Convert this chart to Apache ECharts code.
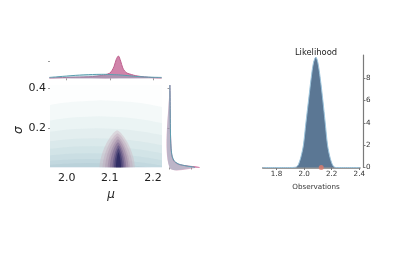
<!DOCTYPE html>
<html>
<head>
<meta charset="utf-8">
<script src="https://cdn.jsdelivr.net/npm/echarts@6.0.0/dist/echarts.min.js"></script>
<style>
html,body{margin:0;padding:0;background:#fff;}
#chart{width:400px;height:280px;}
</style>
</head>
<body>
<div id="chart"></div>
<script>
// ---------- data ----------
const muTicks = [2.0, 2.1, 2.2];
const sigmaTicks = [0.2, 0.4];
const likeTicksX = [1.8, 2.0, 2.2, 2.4];
const likeTicksY = [0, 2, 4, 6, 8];

// top marginal (density of mu)
const topMu    = [1.96, 1.98, 2.00, 2.02, 2.04, 2.06, 2.08, 2.09, 2.10, 2.105, 2.11, 2.115, 2.12, 2.125, 2.13, 2.135, 2.14, 2.15, 2.16, 2.18, 2.20, 2.22];
const topPink  = [0.2, 0.35, 0.5, 0.65, 0.8, 1.0, 1.6, 2.1, 3.0, 4.5, 7.0, 11.0, 12.9, 10.0, 6.0, 4.0, 3.0, 2.2, 1.5, 0.8, 0.4, 0.2];
const topTeal  = [0.5, 0.9, 1.3, 1.7, 2.0, 2.2, 2.3, 2.3, 2.2, 2.15, 2.1, 2.05, 2.0, 1.9, 1.8, 1.7, 1.6, 1.35, 1.1, 0.8, 0.6, 0.5];

// right marginal (density of sigma)
const sideSigma = [0.003, 0.006, 0.01, 0.015, 0.02, 0.03, 0.04, 0.06, 0.08, 0.1, 0.15, 0.2, 0.3, 0.4165];
const sidePink  = [13.6, 12.0, 8.5, 5.5, 3.8, 2.4, 1.7, 1.1, 0.85, 0.7, 0.5, 0.4, 0.3, 0.2];
const sideTeal  = [11.5, 10.5, 8.0, 5.8, 4.2, 2.7, 1.9, 1.2, 0.9, 0.7, 0.5, 0.4, 0.3, 0.2];

// joint density: teal (broad) filled contour levels
const tealMu    = [2.08, 2.075, 2.07, 2.065, 2.06, 2.055, 2.05, 2.05];
const tealHalfW = [0.45, 0.40, 0.36, 0.32, 0.28, 0.24, 0.20, 0.15];
const tealTop   = [0.34, 0.26, 0.20, 0.15, 0.11, 0.075, 0.045, 0.025];
// joint density: purple (concentrated) filled contour levels
const purpMu    = [2.117, 2.118, 2.118, 2.119, 2.119, 2.12, 2.12, 2.12];
const purpHalfW = [0.041, 0.035, 0.029, 0.024, 0.019, 0.014, 0.010, 0.006];
const purpTop   = [0.19, 0.175, 0.16, 0.145, 0.13, 0.115, 0.10, 0.08];

// likelihood
const likeX = [1.70, 1.90, 1.94, 1.96, 1.98, 1.995, 2.013, 2.032, 2.051, 2.068, 2.085, 2.10, 2.117, 2.136, 2.153, 2.17, 2.19, 2.21, 2.23, 2.405];
const likeY = [0, 0, 0.03, 0.3, 1.1, 2.0, 4.0, 6.0, 8.0, 9.4, 9.9, 9.4, 8.0, 6.0, 4.0, 2.0, 0.8, 0.15, 0, 0];
const obsX = [2.124];

// ---------- styles ----------
const tealColors = ['rgba(120,175,185,0.065)','rgba(120,175,185,0.065)','rgba(115,172,183,0.065)','rgba(112,168,182,0.065)','rgba(108,164,180,0.07)','rgba(104,158,178,0.07)','rgba(100,150,174,0.075)','rgba(96,144,170,0.08)'];
const purpColors = ['rgba(205,182,192,0.42)','rgba(190,166,184,0.40)','rgba(170,148,172,0.42)','rgba(146,124,158,0.45)','rgba(118,100,142,0.50)','rgba(90,78,128,0.56)','rgba(62,56,110,0.66)','rgba(40,38,95,0.76)'];

const chart = echarts.init(document.getElementById('chart'), null, {renderer:'canvas'});

function contourSeries(mu, hw, top, colors, p, q) {
  const data = mu.map((m, i) => [m, top[i], hw[i], i]);
  return {
    type: 'custom', xAxisIndex: 0, yAxisIndex: 0, clip: true, silent: true,
    encode: {x: 0, y: 1},
    data: data,
    renderItem: function (params, api) {
      const c = api.value(0), h = api.value(1), w = api.value(2), idx = api.value(3);
      const N = 48;
      const left = [], right = [];
      for (let k = 0; k <= N; k++) {
        const t = k / N;
        const s = h * t;
        const dx = w * Math.pow(Math.max(0, 1 - Math.pow(t, p)), q);
        left.push(api.coord([c - dx, s]));
        right.unshift(api.coord([c + dx, s]));
      }
      return {
        type: 'polygon',
        shape: {points: left.concat(right), smooth: 0},
        style: {fill: colors[idx], stroke: null},
        clipPath: {type: 'rect', shape: {x: params.coordSys.x, y: params.coordSys.y, width: params.coordSys.width, height: params.coordSys.height}}
      };
    }
  };
}

function areaSeries(xi, yi, xs, ys, horizontal, fill, stroke, z) {
  return {
    type: 'custom', xAxisIndex: xi, yAxisIndex: yi, silent: true, z: z,
    data: [[xs[0], ys[0]]],
    renderItem: function (params, api) {
      const pts = xs.map((x, i) => api.coord(horizontal ? [ys[i], x] : [x, ys[i]]));
      const base0 = horizontal ? api.coord([0, xs[0]]) : api.coord([xs[0], 0]);
      const base1 = horizontal ? api.coord([0, xs[xs.length - 1]]) : api.coord([xs[xs.length - 1], 0]);
      return {
        type: 'group',
        children: [
          {type: 'polygon', shape: {points: [base0].concat(pts, [base1]), smooth: 0.3}, style: {fill: fill}},
          {type: 'polyline', shape: {points: pts, smooth: 0.3}, style: {stroke: stroke, lineWidth: 1, fill: null}}
        ]
      };
    }
  };
}

const tickGrey = '#9a9a9a';
const muMin = 1.9615, muMax = 2.2208, sMin = 0.003, sMax = 0.4165;

const option = {
  animation: false,
  backgroundColor: '#ffffff',
  textStyle: {fontFamily: 'DejaVu Sans'},
  title: [
    {text: 'Likelihood', left: 311, top: 44, textAlign: 'center', textStyle: {fontSize: 8.4, fontWeight: 'normal', color: '#222', fontFamily: 'DejaVu Sans'}},
    {text: 'Observations', left: 311, top: 179, textAlign: 'center', textStyle: {fontSize: 7.2, fontWeight: 'normal', color: '#333', fontFamily: 'DejaVu Sans'}},
    {text: 'μ', left: 106, top: 184, textAlign: 'center', textStyle: {fontSize: 12, fontStyle: 'italic', fontWeight: 'normal', color: '#222', fontFamily: 'DejaVu Sans'}}
  ],
  graphic: [
    {type: 'text', x: 13, y: 134, rotation: Math.PI / 2, style: {text: 'σ', font: 'italic 12px DejaVu Sans', fill: '#222'}}
  ],
  grid: [
    {left: 50, top: 85, width: 112, height: 82.5, show: true, backgroundColor: '#fdfefe', borderWidth: 0},
    {left: 50, top: 55, width: 112, height: 23.3},
    {left: 169.5, top: 85, width: 31, height: 82.5},
    {left: 262.7, top: 55, width: 97.3, height: 112.5}
  ],
  xAxis: [
    {gridIndex: 0, type: 'value', min: muMin, max: muMax,
      axisLine: {show: false}, splitLine: {show: false},
      axisTick: {show: false},
      axisLabel: {customValues: muTicks, fontSize: 11, color: '#222', margin: 5, formatter: v => v.toFixed(1)}},
    {gridIndex: 1, type: 'value', min: muMin, max: muMax,
      axisLine: {show: false}, splitLine: {show: false},
      axisTick: {show: true, customValues: muTicks, length: 2, lineStyle: {color: tickGrey}},
      axisLabel: {show: false}},
    {gridIndex: 2, type: 'value', min: 0, max: 14,
      axisLine: {show: false}, splitLine: {show: false},
      axisTick: {show: true, customValues: [0, 10], length: 2, lineStyle: {color: tickGrey}},
      axisLabel: {show: false}},
    {gridIndex: 3, type: 'value', min: 1.7, max: 2.405,
      axisLine: {show: true, lineStyle: {color: '#7a7a7a', width: 1.5}}, splitLine: {show: false},
      axisTick: {show: true, customValues: likeTicksX, length: 2.5, lineStyle: {color: '#7a7a7a'}},
      axisLabel: {customValues: likeTicksX, fontSize: 7.2, color: '#333', margin: 3.5, formatter: v => v.toFixed(1)}}
  ],
  yAxis: [
    {gridIndex: 0, type: 'value', min: sMin, max: sMax,
      axisLine: {show: false}, splitLine: {show: false},
      axisTick: {show: true, customValues: sigmaTicks, length: 2, lineStyle: {color: tickGrey}},
      axisLabel: {customValues: sigmaTicks, fontSize: 11, color: '#222', margin: 4, formatter: v => v.toFixed(1)}},
    {gridIndex: 1, type: 'value', min: 0, max: 13.5,
      axisLine: {show: false}, splitLine: {show: false},
      axisTick: {show: true, customValues: [10], length: 2, lineStyle: {color: tickGrey}},
      axisLabel: {show: false}},
    {gridIndex: 2, type: 'value', min: sMin, max: sMax,
      axisLine: {show: false}, splitLine: {show: false},
      axisTick: {show: true, customValues: sigmaTicks, length: 2, lineStyle: {color: tickGrey}},
      axisLabel: {show: false}},
    {gridIndex: 3, type: 'value', min: 0, max: 10.09, position: 'right', offset: 3,
      axisLine: {show: true, lineStyle: {color: '#7a7a7a', width: 1.2}}, splitLine: {show: false},
      axisTick: {show: true, customValues: likeTicksY, length: 2.5, inside: false, lineStyle: {color: '#7a7a7a'}},
      axisLabel: {customValues: likeTicksY, fontSize: 7.2, color: '#333', margin: 3}}
  ],
  series: [
    contourSeries(tealMu, tealHalfW, tealTop, tealColors, 1, 0.5),
    contourSeries(purpMu, purpHalfW, purpTop, purpColors, 1.7, 0.75),
    areaSeries(1, 1, topMu, topPink, false, 'rgba(200,110,155,0.85)', '#c0608e', 2),
    areaSeries(1, 1, topMu, topTeal, false, 'rgba(110,175,190,0.35)', '#5a9fb0', 3),
    areaSeries(2, 2, sideSigma, sidePink, true, 'rgba(200,120,160,0.55)', '#d06a9a', 2),
    areaSeries(2, 2, sideSigma, sideTeal, true, 'rgba(120,180,195,0.35)', '#5a9fb0', 3),
    {type: 'line', xAxisIndex: 3, yAxisIndex: 3, data: likeX.map((x, i) => [x, likeY[i]]), smooth: 0.3, symbol: 'none',
      lineStyle: {color: '#9cc4dc', width: 1}, areaStyle: {color: '#5b7794', opacity: 1}, z: 2},
    {type: 'scatter', xAxisIndex: 3, yAxisIndex: 3, data: obsX.map(x => [x, 0]), symbolSize: 5,
      itemStyle: {color: '#e07a6a'}, z: 5}
  ]
};
chart.setOption(option);
</script>
</body>
</html>
